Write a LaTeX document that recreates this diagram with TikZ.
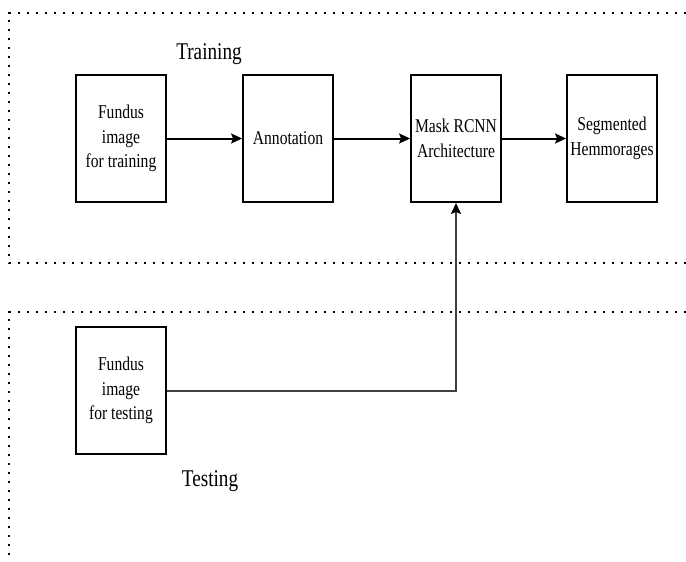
\documentclass[tikz,border=0pt]{standalone}
\usepackage{fontspec}
\setmainfont[FakeStretch=0.8]{Liberation Serif}
\usetikzlibrary{arrows.meta}
\begin{document}
\begin{tikzpicture}[x=1pt,y=-1pt,
  stepbox/.style={draw,line width=1.8pt,minimum width=90pt,minimum height=127pt,inner sep=0pt,align=center,font=\fontsize{19.5}{24.5}\selectfont},
  flow/.style={line width=2pt,-{Stealth[length=11pt,width=10pt,inset=2pt,color=black]}},
  frame/.style={line width=2.6pt,dash pattern=on 2.2pt off 6.8pt},
  lbl/.style={font=\fontsize{24}{28}\selectfont,inner sep=0pt,anchor=base}]
\useasboundingbox (0,0) rectangle (686,562);
% frames
\coordinate (t1) at (9,13);
\coordinate (t2) at (686,13);
\coordinate (t3) at (9,263);
\coordinate (t4) at (686,263);
\coordinate (s1) at (9,312);
\coordinate (s2) at (686,312);
\coordinate (s3) at (9,562);
\draw[frame] (t2) -- (t1) -- (t3) -- (t4);
\draw[frame] (s2) -- (s1) -- (s3);
% labels
\node[lbl] (trainlbl) at (209,59) {Training};
\node[lbl] (testlbl) at (210,486) {Testing};
% boxes
\node[stepbox] (ftrain) at (121,138.5) {Fundus\\image\\for training};
\node[stepbox] (annot) at (288,138.5) {Annotation};
\node[stepbox] (mask) at (456,138.5) {Mask RCNN\\Architecture};
\node[stepbox] (seg) at (612,138.5) {Segmented\\Hemmorages};
\node[stepbox] (ftest) at (121,390.5) {Fundus\\image\\for testing};
% connectors
\draw[flow] (ftrain) -- (annot);
\draw[flow] (annot) -- (mask);
\draw[flow] (mask) -- (seg);
\draw[flow,draw=black!75] (ftest.east) -| (mask.south);
\end{tikzpicture}
\end{document}
